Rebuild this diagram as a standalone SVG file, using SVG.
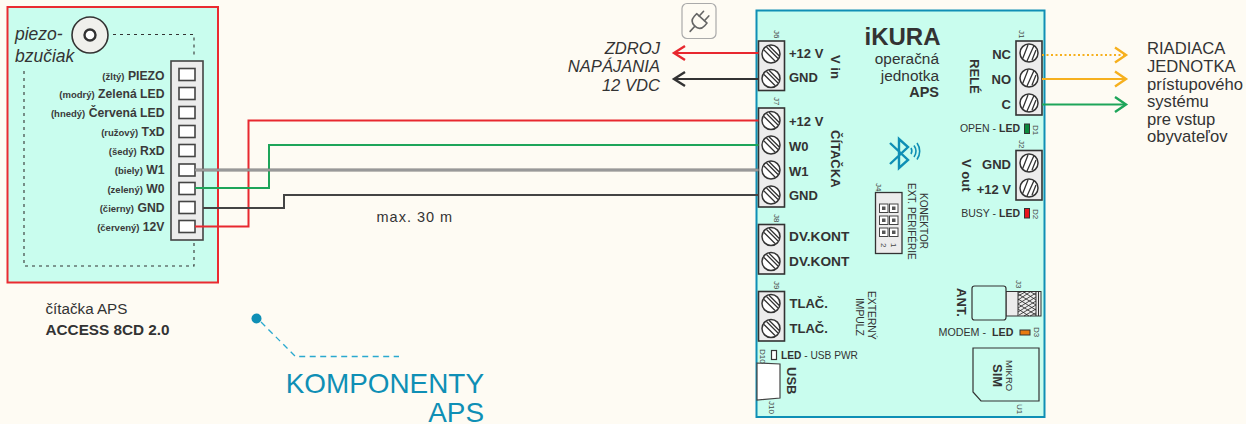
<svg xmlns="http://www.w3.org/2000/svg" width="1246" height="424" viewBox="0 0 1246 424">
<style>
text{font-family:"Liberation Sans",Arial,sans-serif;fill:#333}
.b{font-weight:bold}
.t{font-weight:bold;font-size:13px}
.l{font-size:12.200px;font-weight:bold;text-anchor:end;fill:#3a3a3a}
.l tspan{font-size:9.500px}
.j{font-size:8px;fill:#444}
.term{fill:#ececec;stroke:#333;stroke-width:1.600}
.sc{fill:#fff;stroke:#333;stroke-width:1.500}
.sl{stroke:#333;stroke-width:1.300;fill:none}
.slot{fill:#fff;stroke:#444;stroke-width:1.600}
.w{fill:none}
.ah{fill:none;stroke-width:2.400}
.dot{fill:none;stroke:#333;stroke-width:1.100;stroke-dasharray:3 4}
.big{font-size:16.600px}
</style>
<defs>
<g id="s"><circle class="sc" r="9"/><path class="sl" d="M-7,-4L4,7M-4.500,-7L7,4.500M-2,-8.300L8.300,2"/></g>
<g id="s2"><circle class="sc" r="9"/><path class="sl" d="M-6.500,6L-1,-8M-2,8L5,-7.500M3,7L7,-3"/></g>
</defs>
<rect width="1246" height="424" fill="#fefbf3"/>

<g id="citacka">
<rect x="7.500" y="7" width="210.500" height="275.500" fill="#c9fdee" stroke="#ea2a30" stroke-width="2"/>
<path class="dot" d="M113,34.500H194V58M194,243V266H24V70"/>
<circle cx="90" cy="35" r="18" fill="#f0f0ec" stroke="#333" stroke-width="1.600"/>
<circle cx="90" cy="35" r="5.500" fill="#fff" stroke="#333" stroke-width="2.400"/>
<text x="15" y="40" font-size="17.500" font-style="italic">piezo-</text>
<text x="15" y="62" font-size="17.500" font-style="italic">bzučiak</text>
<rect x="171" y="61" width="32" height="179" fill="#ececec" stroke="#444" stroke-width="1.600"/>
<rect class="slot" x="179" y="68.500" width="16" height="12"/>
<rect class="slot" x="179" y="87.500" width="16" height="12"/>
<rect class="slot" x="179" y="106.500" width="16" height="12"/>
<rect class="slot" x="179" y="125.500" width="16" height="12"/>
<rect class="slot" x="179" y="144.500" width="16" height="12"/>
<rect class="slot" x="179" y="164" width="16" height="12"/>
<rect class="slot" x="179" y="182.500" width="16" height="12"/>
<rect class="slot" x="179" y="201.500" width="16" height="12"/>
<rect class="slot" x="179" y="220.500" width="16" height="12"/>
<text class="l" x="164.500" y="79.500"><tspan>(žltý)</tspan> PIEZO</text>
<text class="l" x="164.500" y="98"><tspan>(modrý)</tspan> Zelená LED</text>
<text class="l" x="164.500" y="117"><tspan>(hnedý)</tspan> Červená LED</text>
<text class="l" x="164.500" y="136"><tspan>(ružový)</tspan> TxD</text>
<text class="l" x="164.500" y="155"><tspan>(šedý)</tspan> RxD</text>
<text class="l" x="164.500" y="174"><tspan>(biely)</tspan> W1</text>
<text class="l" x="164.500" y="193"><tspan>(zelený)</tspan> W0</text>
<text class="l" x="164.500" y="212"><tspan>(čierny)</tspan> GND</text>
<text class="l" x="164.500" y="231"><tspan>(červený)</tspan> 12V</text>
<text x="45.500" y="314" font-size="15.200">čítačka APS</text>
<text x="45.500" y="334.500" font-size="15.300" class="b">ACCESS 8CD 2.0</text>
</g>

<g id="ikura">
<rect x="756.500" y="10.500" width="288" height="406.500" fill="#c9fdee" stroke="#0f8fb5" stroke-width="2"/>
<text x="940.500" y="45" font-size="24" class="b" text-anchor="end">iKURA</text>
<text x="939" y="64" font-size="15.400" text-anchor="end">operačná</text>
<text x="939" y="81" font-size="15.400" text-anchor="end">jednotka</text>
<text x="939" y="97" font-size="14.500" class="b" text-anchor="end">APS</text>

<rect class="term" x="758.500" y="41" width="26" height="49.500"/>
<use href="#s" x="771" y="54"/><use href="#s" x="771" y="78.500"/>
<text class="t" x="789" y="58">+12 V</text><text class="t" x="789" y="82">GND</text>
<text class="t" transform="translate(831,55) rotate(90)">V in</text>
<text class="j" transform="translate(774,30) rotate(90)">J6</text>

<rect class="term" x="758.500" y="108" width="26" height="99"/>
<use href="#s" x="771" y="120.500"/><use href="#s" x="771" y="145"/><use href="#s" x="771" y="170"/><use href="#s" x="771" y="195"/>
<text class="t" x="789" y="126">+12 V</text><text class="t" x="789" y="151">W0</text><text class="t" x="789" y="176">W1</text><text class="t" x="789" y="200">GND</text>
<text class="t" transform="translate(831,130) rotate(90)">ČÍTAČKA</text>
<text class="j" transform="translate(774,97) rotate(90)">J7</text>

<rect class="term" x="758.500" y="224.500" width="26" height="49.500"/>
<use href="#s" x="771" y="236.500"/><use href="#s" x="771" y="261.500"/>
<text class="t" x="789" y="241" style="font-size:13.700px">DV.KONT</text><text class="t" x="789" y="266" style="font-size:13.700px">DV.KONT</text>
<text class="j" transform="translate(774,214) rotate(90)">J8</text>

<rect class="term" x="758.500" y="291.500" width="26" height="49.500"/>
<use href="#s" x="771" y="303.500"/><use href="#s" x="771" y="328.500"/>
<text class="t" x="789.500" y="308">TLAČ.</text><text class="t" x="789.500" y="333">TLAČ.</text>
<text class="j" transform="translate(774,281) rotate(90)">J9</text>
<text font-size="10.300" transform="translate(868,291) rotate(90)">EXTERNÝ</text>
<text font-size="10.300" transform="translate(856,298) rotate(90)">IMPULZ</text>

<rect class="term" x="1016" y="41" width="26" height="74"/>
<use href="#s2" x="1029" y="53"/><use href="#s2" x="1029" y="78"/><use href="#s2" x="1029" y="103"/>
<text class="t" x="1011" y="59" text-anchor="end">NC</text><text class="t" x="1011" y="84" text-anchor="end">NO</text><text class="t" x="1011" y="109" text-anchor="end">C</text>
<text class="t" transform="translate(970,59) rotate(90)">RELÉ</text>
<text class="j" transform="translate(1019,30) rotate(90)">J1</text>

<rect class="term" x="1016" y="150.500" width="26" height="49.500"/>
<use href="#s2" x="1029" y="163"/><use href="#s2" x="1029" y="188"/>
<text class="t" x="1011" y="169" text-anchor="end">GND</text><text class="t" x="1011" y="194" text-anchor="end">+12 V</text>
<text class="t" transform="translate(962,159) rotate(90)">V out</text>
<text class="j" transform="translate(1019,140) rotate(90)">J2</text>

<text x="1020" y="132" font-size="10.500" text-anchor="end">OPEN - <tspan class="b">LED</tspan></text>
<rect x="1024.500" y="124" width="5" height="9.500" fill="#0a8a3c" stroke="#333"/>
<text class="j" transform="translate(1033,125) rotate(90)">D1</text>
<text x="1020" y="217" font-size="10.500" text-anchor="end">BUSY - <tspan class="b">LED</tspan></text>
<rect x="1024.500" y="208.500" width="5" height="9.500" fill="#e8141c" stroke="#333"/>
<text class="j" transform="translate(1033,209) rotate(90)">D2</text>

<g fill="none" stroke="#0f8fb5" stroke-width="2.400">
<path d="M890,143L908,160L899,168V139L908,147L890,164"/>
<path stroke-width="1.600" d="M911,148a6,6 0 0 1 0,6M914,145.500a10,10 0 0 1 0,11.500M917,143a14,14 0 0 1 0,16.500"/>
</g>

<text class="j" transform="translate(876,183) rotate(90)">J4</text>
<text font-size="10" transform="translate(908,183) rotate(90)">EXT. PERIFÉRIE</text>
<text font-size="10" transform="translate(920,193) rotate(90)">KONEKTOR</text>
<rect x="875.500" y="192.500" width="26.500" height="61" fill="#ececec" stroke="#333" stroke-width="1.300"/>
<g fill="#fff" stroke="#444" stroke-width="1">
<rect x="879.500" y="204" width="8.500" height="8.500"/><rect x="889.500" y="204" width="8.500" height="8.500"/>
<rect x="879.500" y="216" width="8.500" height="8.500"/><rect x="889.500" y="216" width="8.500" height="8.500"/>
<rect x="879.500" y="228" width="8.500" height="8.500"/><rect x="889.500" y="228" width="8.500" height="8.500"/>
</g>
<g fill="#555">
<rect x="882" y="206.500" width="3.500" height="3.500"/><rect x="892" y="206.500" width="3.500" height="3.500"/>
<rect x="882" y="218.500" width="3.500" height="3.500"/><rect x="892" y="218.500" width="3.500" height="3.500"/>
<rect x="882" y="230.500" width="3.500" height="3.500"/><rect x="892" y="230.500" width="3.500" height="3.500"/>
</g>
<text class="j" transform="translate(881,243) rotate(90)">2</text>
<text class="j" transform="translate(891,243) rotate(90)">1</text>

<text class="t" transform="translate(957,288) rotate(90)">ANT.</text>
<rect x="1006" y="291.500" width="35" height="24.500" fill="#ececec" stroke="#333" stroke-width="1"/>
<path d="M1018,291.500V316M1036,291.500V316M1038.500,291.500V316" stroke="#333" stroke-width="1"/>
<path d="M1018,293L1022,291.500M1018,296L1026,291.500M1018,300L1030,292M1018,304L1036,293M1018,308L1036,297M1018,312L1036,301M1019,315L1036,305M1024,316L1036,309M1030,316L1036,313M1018,294L1036,305M1018,299L1036,310M1018,304L1036,315M1018,309L1029,316M1023,291.500L1036,300M1030,291.500L1036,295" stroke="#222" stroke-width="0.800"/>
<rect x="972" y="286" width="34" height="34" rx="2.500" fill="#c9fdee" stroke="#333" stroke-width="1.200"/>
<text class="j" transform="translate(1016,280) rotate(90)">J3</text>
<text x="938.500" y="336" font-size="10.700">MODEM -</text>
<text x="992" y="336" font-size="10.700" class="b">LED</text>
<rect x="1020" y="330" width="10" height="5" fill="#e87a10" stroke="#333"/>
<text class="j" transform="translate(1034,327) rotate(90)">D3</text>

<path d="M973,348H1039V401H981L973,392Z" fill="#c9fdee" stroke="#333" stroke-width="1.200"/>
<text font-size="13" class="b" transform="translate(993,364) rotate(90)">SIM</text>
<text font-size="9.500" transform="translate(1006,360) rotate(90)">MIKRO</text>
<text class="j" transform="translate(1017,404) rotate(90)">U1</text>

<rect x="771.500" y="350.500" width="5" height="9" fill="#fff" stroke="#333" stroke-width="1.200"/>
<text class="j" transform="translate(760,349) rotate(90)">D10</text>
<text x="781" y="358.500" font-size="10.200"><tspan class="b">LED</tspan> - USB PWR</text>
<path d="M757,363L780,364V398L757,400Z" fill="#fff" stroke="#444" stroke-width="1.200"/>
<text class="t" transform="translate(787,367) rotate(90)">USB</text>
<text class="j" transform="translate(769,401) rotate(90)">J10</text>
</g>

<g id="konektory">
<path class="w" d="M195,226.500H248.500V120.500H758.500" stroke="#e8282f" stroke-width="2"/>
<path class="w" d="M195,188H269V145H758.500" stroke="#1ea55a" stroke-width="2"/>
<path class="w" d="M195,170H758.500" stroke="#7d7d7d" stroke-width="3"/>
<path class="w" d="M195,170H758.500" stroke="#b5b5b5" stroke-width="1"/>
<path class="w" d="M203,208H284V195H758.500" stroke="#444" stroke-width="2"/>
<path class="w" d="M758.500,53H674" stroke="#e8282f" stroke-width="2"/>
<path class="ah" d="M685,46L674,53L685,60" stroke="#e8282f"/>
<path class="w" d="M758.500,79H674" stroke="#333" stroke-width="2"/>
<path class="ah" d="M685,72L674,79L685,86" stroke="#333"/>
<path class="w" d="M1042,55H1125" stroke="#f6b01e" stroke-width="2" stroke-dasharray="2 2.500"/>
<path class="ah" d="M1115,47.500L1126,55L1115,62.500" stroke="#f6b01e"/>
<path class="w" d="M1042,79H1125" stroke="#f6b01e" stroke-width="2"/>
<path class="ah" d="M1115,71.500L1126,79L1115,86.500" stroke="#f6b01e"/>
<path class="w" d="M1042,104.500H1125" stroke="#1ea55a" stroke-width="2"/>
<path class="ah" d="M1115,97L1126,104.500L1115,112" stroke="#1ea55a"/>
<path d="M261,322L295.500,356.500H399" fill="none" stroke="#2aa9cf" stroke-width="1.300" stroke-dasharray="6 4.500"/>
<circle cx="256.500" cy="318.500" r="5" fill="#0f8fb5"/>
</g>

<g id="napajanie">
<rect x="682" y="3.500" width="34" height="35" rx="5" fill="#fefbf3" stroke="#aaa" stroke-width="1.200"/>
<g transform="translate(699.500,21) rotate(42)" fill="none" stroke="#666" stroke-width="1.600" stroke-linejoin="round" stroke-linecap="round">
<path d="M-7,-3.500H7V0Q7,7 0,7Q-7,7 -7,0Z"/>
<path d="M-3.500,-3.500V-10M3.500,-3.500V-10M0,7V14"/>
</g>
<text class="big" font-style="italic" text-anchor="end" x="660" y="53.500">ZDROJ</text>
<text class="big" font-style="italic" text-anchor="end" x="660" y="72">NAPÁJANIA</text>
<text class="big" font-style="italic" text-anchor="end" x="660" y="91">12 VDC</text>
<text x="376.500" y="222" font-size="14.500" letter-spacing="1">max. 30 m</text>
</g>

<g id="riadiaca">
<text class="big" x="1147" y="54">RIADIACA</text>
<text class="big" x="1147" y="71.500">JEDNOTKA</text>
<text class="big" x="1147" y="89.500">prístupového</text>
<text class="big" x="1147" y="107">systému</text>
<text class="big" x="1147" y="124.500">pre vstup</text>
<text class="big" x="1147" y="142">obyvateľov</text>
</g>

<g id="komponenty">
<text font-size="27.900" style="fill:#0f8fb5" text-anchor="end" x="484" y="392.500">KOMPONENTY</text>
<text font-size="27.900" style="fill:#0f8fb5" text-anchor="end" x="484" y="422">APS</text>
</g>
</svg>
